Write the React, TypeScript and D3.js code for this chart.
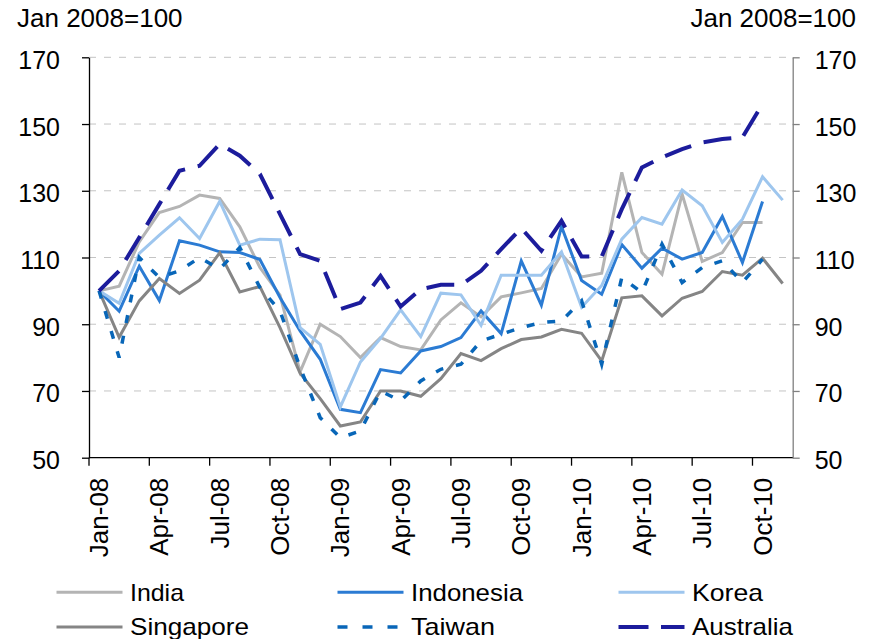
import React, { useRef, useEffect } from 'react';
import * as d3 from 'd3';

// Monthly categories, Jan-08 to Nov-10
const months = [
  'Jan-08', 'Feb-08', 'Mar-08', 'Apr-08', 'May-08', 'Jun-08', 'Jul-08', 'Aug-08', 'Sep-08', 'Oct-08', 'Nov-08', 'Dec-08',
  'Jan-09', 'Feb-09', 'Mar-09', 'Apr-09', 'May-09', 'Jun-09', 'Jul-09', 'Aug-09', 'Sep-09', 'Oct-09', 'Nov-09', 'Dec-09',
  'Jan-10', 'Feb-10', 'Mar-10', 'Apr-10', 'May-10', 'Jun-10', 'Jul-10', 'Aug-10', 'Sep-10', 'Oct-10', 'Nov-10',
];

const yTicks = [50, 70, 90, 110, 130, 150, 170];

const india = [
  100, 101.4, 114.7, 123.5, 125.3, 128.7, 127.7, 119.2, 107, 98.7, 75.7, 90,
  86.3, 80, 86, 83.3, 82.3, 91.3, 96.4, 92.2, 98.2, 99.4, 100.7, 111,
  104.2, 105.3, 135.5, 111.5, 105, 129, 108.8, 111.5, 120.5, 120.5,
];
const indonesia = [
  100, 93.9, 107.4, 97.1, 115, 113.7, 111.7, 111.5, 109.4, 98, 88, 79.5,
  64.5, 63.5, 76.4, 75.4, 82, 83.3, 86, 94, 87.2, 109, 95.7, 119.3,
  103.1, 99, 113.9, 106.8, 112.8, 109.5, 111.5, 122.3, 108.5, 126.8,
];
const korea = [
  100, 96.3, 111.2, 116.7, 121.9, 115.7, 126.8, 113.7, 115.5, 115.3, 89, 84,
  65.2, 78.7, 85.8, 94.3, 86.3, 99.3, 98.8, 89.7, 104.7, 104.7, 104.7, 111.7,
  95.1, 101.6, 115.5, 122, 120, 130.2, 125.5, 114.5, 121.5, 134.2, 127.2,
];
const singapore = [
  100, 86.1, 97, 103.7, 99.2, 103.2, 111.4, 99.7, 101.3, 89, 75.3, 67.7,
  59.5, 60.7, 70, 70, 68.4, 73.7, 81.2, 79.1, 82.7, 85.4, 86.2, 88.5,
  87.3, 79, 97.9, 98.5, 92.5, 97.8, 99.8, 105.8, 104.7, 109.8, 102.2,
];
const taiwan = [
  100, 80, 110, 104, 106, 110, 106.5, 113, 101, 94, 77, 62,
  56, 58, 70, 67, 73, 76.5, 78, 85, 87, 89, 90.5, 91,
  97, 78, 104, 99.5, 114, 102.5, 107, 109, 102.5, 109.5,
];
const australia = [
  100, 106, 116, 126, 136, 137.5, 144, 140.5, 135, 123, 111, 109,
  94.5, 96.5, 104.5, 95.3, 100.5, 101.8, 101.8, 106, 112.5, 118.8, 112, 121,
  110.3, 110.3, 124.5, 137, 140, 142.5, 144.5, 145.5, 146, 156,
];

const series = [
  { name: 'India', values: india, color: '#b4b4b4', width: 3, dash: null, legendDash: null, textLen: 54 },
  { name: 'Indonesia', values: indonesia, color: '#2b7bd3', width: 3, dash: null, legendDash: null, textLen: 112 },
  { name: 'Korea', values: korea, color: '#9ec6ee', width: 3, dash: null, legendDash: null, textLen: 71 },
  { name: 'Singapore', values: singapore, color: '#858585', width: 3, dash: null, legendDash: null, textLen: 119 },
  { name: 'Taiwan', values: taiwan, color: '#0866b8', width: 3.5, dash: '8,13', legendDash: '10,15', textLen: 84 },
  { name: 'Australia', values: australia, color: '#1c1c9c', width: 4, dash: '28,13', legendDash: '30,12.5', textLen: 101 },
];

const font = '"Liberation Sans", Arial, Helvetica, sans-serif';

function Chart() {
  const svgRef = useRef<SVGSVGElement>(null);

  useEffect(() => {
    const svg = d3.select(svgRef.current);
    svg.selectAll('*').remove();

    const left = 89, right = 792.7, top = 57.3, bottom = 457.7;

    const x = d3.scaleBand<string>().domain(months).range([left, right]).padding(0);
    const y = d3.scaleLinear().domain([50, 170]).range([bottom, top]);
    const cx = (i: number) => (x(months[i]) as number) + x.bandwidth() / 2;

    // gridlines
    svg.append('g')
      .selectAll('line')
      .data(yTicks.filter(t => t > 50))
      .join('line')
      .attr('x1', left)
      .attr('x2', right)
      .attr('y1', d => y(d))
      .attr('y2', d => y(d))
      .attr('stroke', '#c4c4c4')
      .attr('stroke-width', 1)
      .attr('stroke-dasharray', '7,8');

    // left axis
    const leftAxis = svg.append('g')
      .attr('transform', `translate(${left},0)`)
      .call(d3.axisLeft(y).tickValues(yTicks).tickSize(7).tickSizeOuter(0).tickPadding(22).tickFormat(d3.format('d')));
    leftAxis.select('.domain').attr('stroke', '#000').attr('stroke-width', 1.3);
    leftAxis.selectAll('.tick line').attr('stroke', '#000').attr('stroke-width', 1.3);
    leftAxis.selectAll('.tick text')
      .attr('font-family', font).attr('font-size', 25).attr('fill', '#000').attr('dy', '0.44em');

    // right axis
    const rightAxis = svg.append('g')
      .attr('transform', `translate(${right},0)`)
      .call(d3.axisRight(y).tickValues(yTicks).tickSize(7).tickSizeOuter(0).tickPadding(15).tickFormat(d3.format('d')));
    rightAxis.select('.domain').attr('stroke', '#808080').attr('stroke-width', 1.3);
    rightAxis.selectAll('.tick line').attr('stroke', '#808080').attr('stroke-width', 1.3);
    rightAxis.selectAll('.tick text')
      .attr('font-family', font).attr('font-size', 25).attr('fill', '#000').attr('dy', '0.44em');

    // bottom axis: ticks on category edges every 3 months, labels on category centres
    const xAxis = svg.append('g');
    xAxis.append('line')
      .attr('x1', left).attr('x2', right)
      .attr('y1', bottom).attr('y2', bottom)
      .attr('stroke', '#000').attr('stroke-width', 1.3);
    const tickIdx = months.map((_, i) => i).filter(i => i % 3 === 0);
    xAxis.selectAll('line.tick')
      .data(tickIdx)
      .join('line')
      .attr('class', 'tick')
      .attr('x1', i => x(months[i]) as number)
      .attr('x2', i => x(months[i]) as number)
      .attr('y1', bottom)
      .attr('y2', bottom + 8)
      .attr('stroke', '#000')
      .attr('stroke-width', 1.3);
    xAxis.selectAll('text')
      .data(tickIdx)
      .join('text')
      .attr('transform', i => `translate(${cx(i) + 9},${bottom + 20}) rotate(-90)`)
      .attr('text-anchor', 'end')
      .attr('font-family', font)
      .attr('font-size', 26)
      .text(i => months[i]);

    // unit labels
    svg.append('text')
      .attr('x', 17).attr('y', 27)
      .attr('font-family', font).attr('font-size', 26)
      .text('Jan 2008=100');
    svg.append('text')
      .attr('x', 856).attr('y', 27)
      .attr('text-anchor', 'end')
      .attr('font-family', font).attr('font-size', 26)
      .text('Jan 2008=100');

    // lines
    const line = d3.line<number>()
      .x((_, i) => cx(i))
      .y(d => y(d));

    series.forEach(s => {
      const p = svg.append('path')
        .datum(s.values)
        .attr('fill', 'none')
        .attr('stroke', s.color)
        .attr('stroke-width', s.width)
        .attr('stroke-linejoin', 'miter')
        .attr('d', line);
      if (s.dash) p.attr('stroke-dasharray', s.dash);
    });

    // legend
    const legend = svg.append('g');
    const colX = [56.5, 337.5, 618.5];
    const rowY = [592.3, 627];
    series.forEach((s, i) => {
      const lx = colX[i % 3];
      const ly = rowY[Math.floor(i / 3)];
      const l = legend.append('line')
        .attr('x1', lx).attr('x2', lx + 66)
        .attr('y1', ly).attr('y2', ly)
        .attr('stroke', s.color)
        .attr('stroke-width', s.width);
      if (s.legendDash) l.attr('stroke-dasharray', s.legendDash);
      legend.append('text')
        .attr('x', lx + 73.5)
        .attr('y', ly + 8.4)
        .attr('font-family', font)
        .attr('font-size', 24)
        .attr('textLength', s.textLen)
        .attr('lengthAdjust', 'spacingAndGlyphs')
        .text(s.name);
    });
  }, []);

  return <svg ref={svgRef} width={874} height={639} style={{ display: 'block' }}></svg>;
}

export default function App() {
  return (
    <div style={{ position: 'absolute', left: 0, top: 0, width: 874, height: 639, background: '#fff', overflow: 'hidden' }}>
      <Chart />
    </div>
  );
}
